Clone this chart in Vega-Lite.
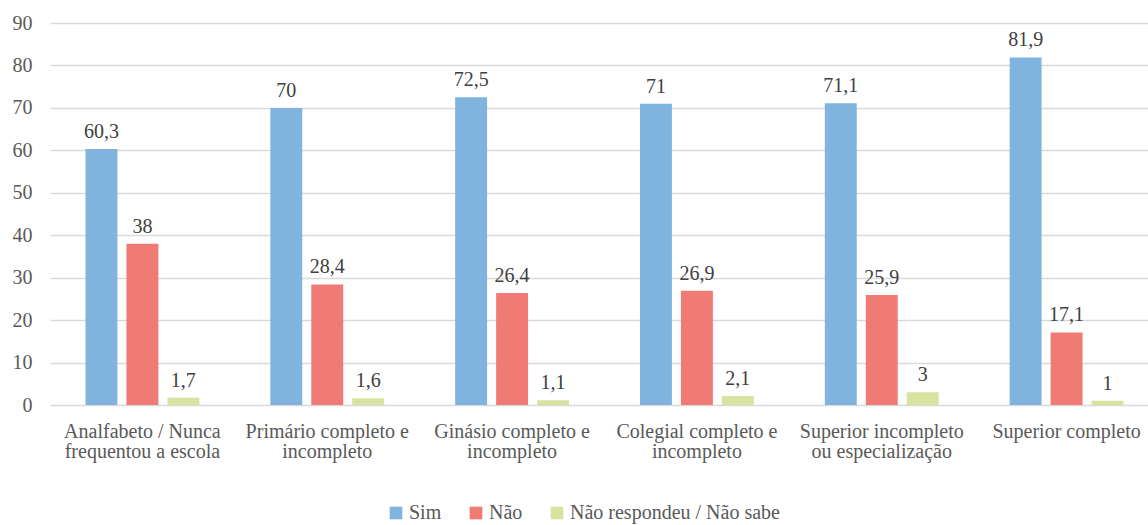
{
  "$schema": "https://vega.github.io/schema/vega-lite/v6.json",
  "width": 1109,
  "height": 382,
  "autosize": {"type": "none"},
  "padding": {"left": 50, "top": 23, "right": 0, "bottom": 120},
  "config": {
    "view": {"stroke": null},
    "font": "Liberation Serif",
    "locale": {"number": {"decimal": ",", "thousands": ".", "grouping": [3], "currency": ["R$", ""]}}
  },
  "data": {
    "values": [
      {"escolaridade": "Analfabeto / Nunca\nfrequentou a escola", "resposta": "Sim", "valor": 60.3},
      {"escolaridade": "Analfabeto / Nunca\nfrequentou a escola", "resposta": "Não", "valor": 38},
      {"escolaridade": "Analfabeto / Nunca\nfrequentou a escola", "resposta": "Não respondeu / Não sabe", "valor": 1.7},
      {"escolaridade": "Primário completo e\nincompleto", "resposta": "Sim", "valor": 70},
      {"escolaridade": "Primário completo e\nincompleto", "resposta": "Não", "valor": 28.4},
      {"escolaridade": "Primário completo e\nincompleto", "resposta": "Não respondeu / Não sabe", "valor": 1.6},
      {"escolaridade": "Ginásio completo e\nincompleto", "resposta": "Sim", "valor": 72.5},
      {"escolaridade": "Ginásio completo e\nincompleto", "resposta": "Não", "valor": 26.4},
      {"escolaridade": "Ginásio completo e\nincompleto", "resposta": "Não respondeu / Não sabe", "valor": 1.1},
      {"escolaridade": "Colegial completo e\nincompleto", "resposta": "Sim", "valor": 71},
      {"escolaridade": "Colegial completo e\nincompleto", "resposta": "Não", "valor": 26.9},
      {"escolaridade": "Colegial completo e\nincompleto", "resposta": "Não respondeu / Não sabe", "valor": 2.1},
      {"escolaridade": "Superior incompleto\nou especialização", "resposta": "Sim", "valor": 71.1},
      {"escolaridade": "Superior incompleto\nou especialização", "resposta": "Não", "valor": 25.9},
      {"escolaridade": "Superior incompleto\nou especialização", "resposta": "Não respondeu / Não sabe", "valor": 3},
      {"escolaridade": "Superior completo", "resposta": "Sim", "valor": 81.9},
      {"escolaridade": "Superior completo", "resposta": "Não", "valor": 17.1},
      {"escolaridade": "Superior completo", "resposta": "Não respondeu / Não sabe", "valor": 1}
    ]
  },
  "encoding": {
    "x": {
      "field": "escolaridade",
      "type": "nominal",
      "sort": null,
      "scale": {"paddingInner": 0.384, "paddingOuter": 0.192},
      "axis": {
        "title": null,
        "labelAngle": 0,
        "ticks": false,
        "domain": false,
        "labelPadding": 16,
        "labelFont": "Liberation Serif",
        "labelFontSize": 20,
        "labelColor": "#595959",
        "labelLineHeight": 20,
        "labelBaseline": "top",
        "labelAlign": "center",
        "labelLimit": 300,
        "labelExpr": "split(datum.label, '\\n')"
      }
    },
    "xOffset": {
      "field": "resposta",
      "type": "nominal",
      "sort": ["Sim", "Não", "Não respondeu / Não sabe"],
      "scale": {"paddingInner": 0.22, "paddingOuter": 0}
    },
    "y": {
      "field": "valor",
      "type": "quantitative",
      "scale": {"domain": [0, 90], "nice": false},
      "axis": {
        "title": null,
        "values": [0, 10, 20, 30, 40, 50, 60, 70, 80, 90],
        "ticks": false,
        "domain": false,
        "labelPadding": 18,
        "labelFont": "Liberation Serif",
        "labelFontSize": 20,
        "labelColor": "#595959",
        "gridColor": "#D9D9D9",
        "gridWidth": 1.3
      }
    }
  },
  "layer": [
    {
      "mark": {"type": "bar"},
      "encoding": {
        "color": {
          "field": "resposta",
          "type": "nominal",
          "sort": ["Sim", "Não", "Não respondeu / Não sabe"],
          "scale": {
            "domain": ["Sim", "Não", "Não respondeu / Não sabe"],
            "range": ["#80B3DE", "#EF7B74", "#D8E3A0"]
          },
          "legend": {
            "title": null,
            "orient": "none",
            "direction": "horizontal",
            "legendX": 336,
            "legendY": 480,
            "symbolType": "square",
            "symbolSize": 160,
            "symbolStrokeWidth": 0,
            "labelFont": "Liberation Serif",
            "labelFontSize": 20,
            "labelColor": "#595959",
            "labelOffset": 3,
            "labelLimit": 400,
            "columnPadding": 24,
            "padding": 0
          }
        }
      }
    },
    {
      "mark": {"type": "text", "baseline": "alphabetic", "dy": -11, "font": "Liberation Serif", "fontSize": 20, "color": "#404040"},
      "encoding": {
        "text": {"field": "valor", "type": "quantitative", "format": ".1~f"}
      }
    }
  ]
}
